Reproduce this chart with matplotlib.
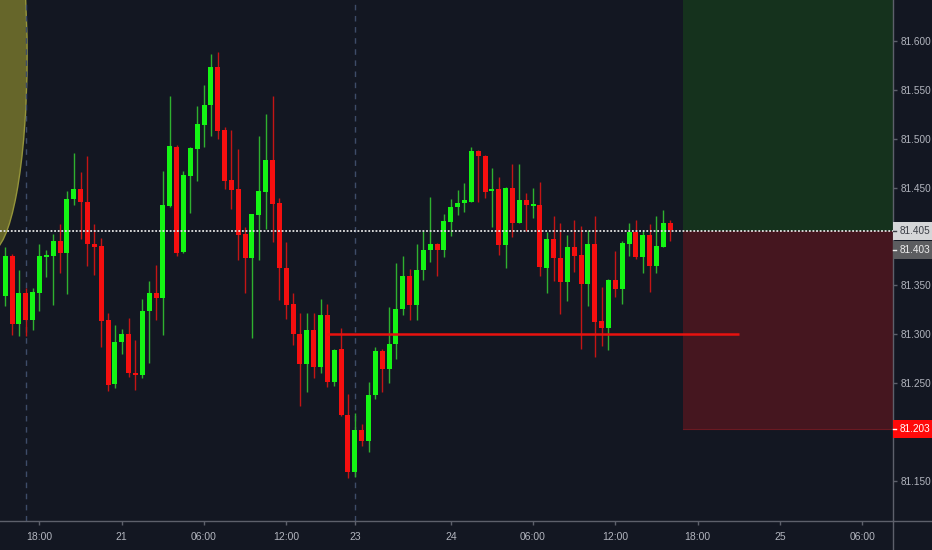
import matplotlib
matplotlib.use('Agg')
import matplotlib.pyplot as plt
from matplotlib.patches import Rectangle, Ellipse
from matplotlib.lines import Line2D
from matplotlib.transforms import blended_transform_factory
import numpy as np

# ---------------- data (30-minute candles) ----------------
opens = [
    81.339, 81.380, 81.310, 81.342, 81.314, 81.342, 81.379, 81.380, 81.395, 81.383,
    81.438, 81.448, 81.435, 81.392, 81.390, 81.314, 81.249, 81.292, 81.300, 81.260,
    81.258, 81.324, 81.342, 81.337, 81.431, 81.492, 81.384, 81.462, 81.489, 81.514,
    81.534, 81.573, 81.509, 81.458, 81.448, 81.402, 81.378, 81.422, 81.445, 81.478,
    81.434, 81.368, 81.331, 81.300, 81.269, 81.304, 81.266, 81.320, 81.251, 81.285,
    81.217, 81.159, 81.202, 81.190, 81.238, 81.283, 81.264, 81.290, 81.326, 81.359,
    81.330, 81.366, 81.386, 81.392, 81.386, 81.415, 81.430, 81.434, 81.435, 81.487,
    81.482, 81.446, 81.448, 81.391, 81.450, 81.414, 81.437, 81.431, 81.432, 81.368,
    81.397, 81.378, 81.353, 81.389, 81.381, 81.351, 81.392, 81.313, 81.306, 81.355,
    81.346, 81.392, 81.404, 81.379, 81.401, 81.370, 81.389, 81.414]
highs = [
    81.389, 81.382, 81.366, 81.347, 81.347, 81.392, 81.386, 81.402, 81.413, 81.446,
    81.485, 81.466, 81.482, 81.413, 81.398, 81.322, 81.309, 81.305, 81.316, 81.294,
    81.336, 81.354, 81.371, 81.467, 81.544, 81.494, 81.467, 81.492, 81.533, 81.555,
    81.587, 81.589, 81.512, 81.509, 81.489, 81.410, 81.423, 81.503, 81.525, 81.544,
    81.439, 81.394, 81.342, 81.322, 81.322, 81.322, 81.336, 81.331, 81.285, 81.306,
    81.239, 81.219, 81.208, 81.251, 81.287, 81.285, 81.328, 81.373, 81.380, 81.367,
    81.392, 81.405, 81.440, 81.393, 81.423, 81.438, 81.447, 81.455, 81.491, 81.488,
    81.483, 81.470, 81.461, 81.451, 81.474, 81.474, 81.444, 81.450, 81.456, 81.404,
    81.421, 81.414, 81.401, 81.417, 81.411, 81.407, 81.421, 81.348, 81.356, 81.385,
    81.395, 81.414, 81.417, 81.405, 81.413, 81.421, 81.427, 81.417]
lows = [
    81.329, 81.299, 81.298, 81.298, 81.304, 81.324, 81.358, 81.330, 81.363, 81.341,
    81.432, 81.397, 81.370, 81.360, 81.287, 81.242, 81.245, 81.280, 81.256, 81.243,
    81.255, 81.270, 81.314, 81.299, 81.430, 81.380, 81.383, 81.424, 81.457, 81.491,
    81.503, 81.500, 81.448, 81.428, 81.376, 81.342, 81.296, 81.376, 81.408, 81.394,
    81.335, 81.315, 81.289, 81.226, 81.241, 81.255, 81.260, 81.246, 81.247, 81.216,
    81.153, 81.154, 81.185, 81.179, 81.234, 81.241, 81.250, 81.274, 81.319, 81.314,
    81.314, 81.355, 81.374, 81.359, 81.379, 81.400, 81.422, 81.425, 81.435, 81.435,
    81.439, 81.410, 81.381, 81.368, 81.399, 81.414, 81.406, 81.419, 81.359, 81.342,
    81.354, 81.321, 81.334, 81.364, 81.285, 81.329, 81.277, 81.288, 81.284, 81.338,
    81.331, 81.380, 81.377, 81.362, 81.343, 81.363, 81.389, 81.395]
closes = [
    81.380, 81.310, 81.342, 81.314, 81.343, 81.380, 81.381, 81.395, 81.383, 81.438,
    81.448, 81.435, 81.392, 81.389, 81.313, 81.248, 81.292, 81.300, 81.260, 81.258,
    81.324, 81.342, 81.337, 81.432, 81.493, 81.383, 81.463, 81.490, 81.515, 81.535,
    81.573, 81.508, 81.457, 81.447, 81.401, 81.378, 81.423, 81.446, 81.478, 81.433,
    81.368, 81.330, 81.300, 81.269, 81.304, 81.266, 81.320, 81.251, 81.284, 81.217,
    81.159, 81.202, 81.190, 81.238, 81.283, 81.264, 81.290, 81.326, 81.359, 81.330,
    81.366, 81.386, 81.392, 81.386, 81.416, 81.430, 81.434, 81.437, 81.487, 81.482,
    81.445, 81.448, 81.391, 81.450, 81.414, 81.437, 81.432, 81.433, 81.369, 81.397,
    81.378, 81.353, 81.389, 81.380, 81.351, 81.392, 81.312, 81.306, 81.355, 81.346,
    81.393, 81.404, 81.379, 81.401, 81.370, 81.390, 81.414, 81.407]

xtick_pos = [5, 17, 29, 41, 51, 65, 77, 89, 101, 113, 125]
xtick_labels = ['18:00', '21', '06:00', '12:00', '23', '24', '06:00', '12:00', '18:00', '25', '06:00']
ytick_vals = [81.150, 81.250, 81.300, 81.350, 81.450, 81.500, 81.550, 81.600]

session_breaks = [3, 51]
entry_price = 81.405
last_price = 81.403
stop_price = 81.203
level_price = 81.300
level_start, level_end = 47, 107
box_start = 98.9
# price-scale tag texts and their (de-overlapped) positions
tag_texts = ['81.405', '81.403', '81.203']
tag_pos = [81.405, 81.3864, 81.203]

# ---------------- style ----------------
BG = '#131722'
TXT = '#b2b5be'
AXC = '#5d606b'
UP, DN = '#14f514', '#f50f0f'
UPW, DNW = '#2fb12f', '#c41515'
FS = 7.2

plt.rcParams['font.family'] = ['Liberation Sans', 'DejaVu Sans']

W, H = 932, 550
fig = plt.figure(figsize=(W / 100, H / 100), dpi=100, facecolor=BG)
ax = fig.add_axes([0, 29 / H, 893 / W, 521 / H], facecolor=BG)
ax.set_xlim(-0.76, 129.51)
ax.set_ylim(81.1086, 81.642)

o = np.array(opens); c = np.array(closes)
hi = np.array(highs); lo = np.array(lows)
x = np.arange(len(o))
up = c >= o

# annotation ellipse (drawing tool) at left
ax.add_patch(Ellipse((-2.1, 81.585), 10.6, 0.40, facecolor='#66662a',
                     edgecolor='#95953a', lw=1, zorder=1))

# session break lines
for sb in session_breaks:
    ax.axvline(sb, color='#3e4c69', lw=1, ls=(0, (4, 4)), zorder=1)

# long/short position boxes
ax.add_patch(Rectangle((box_start, entry_price), 60, 0.5, facecolor='#15321d',
                       edgecolor='none', zorder=1))
ax.add_patch(Rectangle((box_start, stop_price), 60, entry_price - stop_price,
                       facecolor='#45161f', edgecolor='none', zorder=1))
ax.plot([box_start, 140], [stop_price, stop_price], color='#6a1a22', lw=0.8, zorder=1)

# candles
ax.vlines(x, lo, hi, colors=np.where(up, UPW, DNW), lw=1, zorder=3)
body_bot = np.minimum(o, c)
body_h = np.maximum(np.abs(c - o), 0.0019)
ax.bar(x, body_h, 0.73, bottom=body_bot, color=np.where(up, UP, DN),
       linewidth=0, zorder=4)

# horizontal red level
ax.plot([level_start, level_end], [level_price, level_price], color='#e8120f',
        lw=1.8, zorder=5, solid_capstyle='butt')

# entry dotted line
ax.axhline(entry_price, color='#e4e4e4', lw=1.3, ls=(0, (1, 1)), zorder=6)

# axes styling
for s in ['top', 'left']:
    ax.spines[s].set_visible(False)
for s in ['right', 'bottom']:
    ax.spines[s].set_color(AXC)
    ax.spines[s].set_linewidth(1)
ax.yaxis.tick_right()
ax.set_yticks(ytick_vals)
ax.set_yticklabels(['%.3f' % v for v in ytick_vals])
ax.set_xticks(xtick_pos)
ax.set_xticklabels(xtick_labels)
ax.tick_params(axis='y', colors=AXC, labelcolor=TXT, length=3, width=1, pad=2.5, labelsize=FS)
ax.tick_params(axis='x', colors=AXC, labelcolor=TXT, length=3, width=1, pad=5, labelsize=FS + 0.3)

# extend axis lines into the corner
fig.add_artist(Line2D([893 / W, 1], [29 / H, 29 / H], transform=fig.transFigure, color=AXC, lw=1))
fig.add_artist(Line2D([893 / W, 893 / W], [0, 29 / H], transform=fig.transFigure, color=AXC, lw=1))

# price-scale tags
tr = blended_transform_factory(ax.transAxes, ax.transData)
px = 0.0010239
tag_bg = ['#d5d6d8', '#5c5d60', '#ff0a0a']
tag_fg = ['#3a3d45', '#eeeeee', '#ffffff']
for t, yp, bgc, fgc in zip(tag_texts, tag_pos, tag_bg, tag_fg):
    ax.add_patch(Rectangle((1.0, yp - 9 * px), 40 / 893, 18 * px, transform=tr,
                           facecolor=bgc, edgecolor='none', clip_on=False, zorder=10))
    ax.plot([1.0, 1.0 + 3 / 893], [yp, yp], transform=tr, color=fgc, lw=1,
            clip_on=False, zorder=11)
    ax.text(1.0 + 6.5 / 893, yp, t, transform=tr, color=fgc, fontsize=FS,
            ha='left', va='center', clip_on=False, zorder=12)

fig.savefig('out.png', dpi=100, facecolor=BG)
